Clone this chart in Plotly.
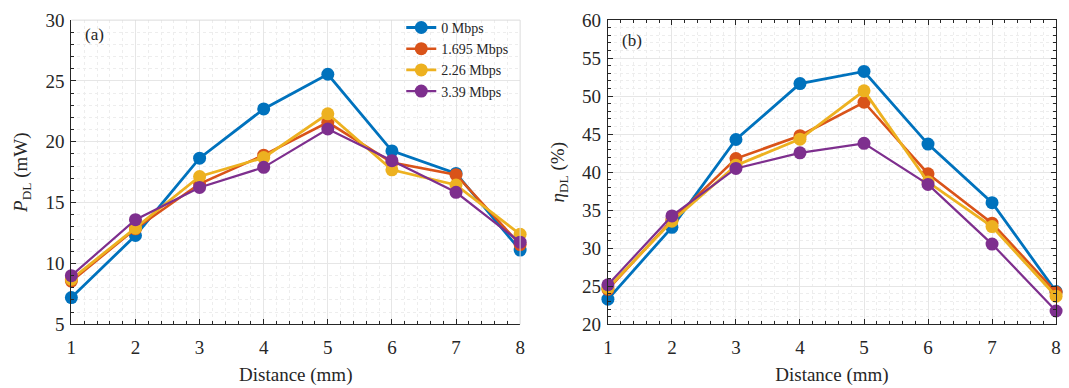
import plotly.graph_objects as go

# Distance between transmitter and receiver (mm)
distance = [1, 2, 3, 4, 5, 6, 7, 8]

# Data-rate settings shown in the legend
rate_labels = ["0 Mbps", "1.695 Mbps", "2.26 Mbps", "3.39 Mbps"]

# (a) Delivered power P_DL (mW)
p_0 = [7.2, 12.3, 18.65, 22.7, 25.55, 19.25, 17.4, 11.1]
p_1695 = [8.55, 12.85, 16.55, 18.9, 21.6, 18.3, 17.3, 11.55]
p_226 = [8.7, 12.9, 17.15, 18.7, 22.3, 17.7, 16.45, 12.4]
p_339 = [9.0, 13.6, 16.25, 17.9, 21.05, 18.45, 15.85, 11.75]

# (b) Delivery efficiency eta_DL (%)
e_0 = [23.3, 32.75, 44.3, 51.65, 53.25, 43.7, 36.0, 24.3]
e_1695 = [24.6, 33.7, 41.8, 44.8, 49.2, 39.8, 33.3, 24.2]
e_226 = [24.75, 33.55, 40.9, 44.35, 50.7, 38.7, 32.85, 23.7]
e_339 = [25.2, 34.25, 40.5, 42.55, 43.8, 38.4, 30.55, 21.75]

colors = ["#0072BD", "#D95319", "#EDB120", "#7E2F8E"]
widths = [2.8, 2.6, 2.8, 2.2]

FONT = "Liberation Serif, Times New Roman, DejaVu Serif, serif"
INK = "#262626"
W, H = 1069, 388

fig = go.Figure()

for i, (label, ys) in enumerate(zip(rate_labels, [p_0, p_1695, p_226, p_339])):
    fig.add_trace(go.Scatter(
        x=distance, y=ys, name=label, mode="lines+markers",
        line=dict(color=colors[i], width=widths[i]),
        marker=dict(color=colors[i], size=13),
        cliponaxis=False, xaxis="x", yaxis="y", legendgroup=label,
    ))

for i, (label, ys) in enumerate(zip(rate_labels, [e_0, e_1695, e_226, e_339])):
    fig.add_trace(go.Scatter(
        x=distance, y=ys, name=label, mode="lines+markers",
        line=dict(color=colors[i], width=widths[i]),
        marker=dict(color=colors[i], size=13),
        cliponaxis=False, xaxis="x2", yaxis="y2", legendgroup=label,
        showlegend=False,
    ))


def axis_style(rng, dtick, minor_dtick, mirror, label_gap):
    return dict(
        range=rng, dtick=dtick, tick0=rng[0], autorange=False,
        showline=True, linecolor=INK, linewidth=1, mirror=mirror,
        ticks="inside", ticklen=5, tickcolor=INK, tickwidth=1,
        ticklabelstandoff=label_gap,
        showgrid=True, gridcolor="#e6e6e6", gridwidth=1,
        zeroline=False,
        tickfont=dict(family=FONT, size=19, color=INK),
        minor=dict(dtick=minor_dtick, ticks="inside", ticklen=3,
                   tickcolor=INK, showgrid=True, gridcolor="#ededed",
                   griddash="dot", gridwidth=1),
    )


ydom = [1 - 332.3 / H, 1 - 10.7 / H]
xdom1 = [67 / W, 520 / W]
xdom2 = [608.6 / W, 1061 / W]
title_font = dict(family=FONT, size=19, color=INK)

xa1 = axis_style([1, 8], 1, 0.2, False, 6)
xa1.update(domain=xdom1, anchor="y",
           title=dict(text="Distance (mm)", font=title_font, standoff=10))
ya1 = axis_style([5, 30], 5, 1, False, 2)
ya1.update(domain=ydom, anchor="x",
           title=dict(text="<i>P</i><sub>DL</sub> (mW)", font=title_font, standoff=12))

xa2 = axis_style([1, 8], 1, 0.2, "ticks", 6)
xa2.update(domain=xdom2, anchor="y2",
           title=dict(text="Distance (mm)", font=title_font, standoff=10))
ya2 = axis_style([20, 60], 5, 1, "ticks", 2)
ya2.update(domain=ydom, anchor="x2",
           title=dict(text="<i>η</i><sub>DL</sub> (%)", font=title_font, standoff=12))

fig.update_layout(
    width=W, height=H,
    margin=dict(l=0, r=0, t=0, b=0),
    paper_bgcolor="white", plot_bgcolor="white",
    xaxis=xa1, yaxis=ya1, xaxis2=xa2, yaxis2=ya2,
    showlegend=True,
    legend=dict(
        x=400 / W, y=1 - 2 / H, xanchor="left", yanchor="top",
        bgcolor="rgba(0,0,0,0)", borderwidth=0,
        font=dict(family=FONT, size=14, color=INK),
        tracegroupgap=0, itemwidth=30,
    ),
    shapes=[
        # light frame on the top and right of panel (a)
        dict(type="line", xref="x domain", yref="y domain", x0=0, x1=1, y0=1, y1=1,
             line=dict(color="#dcdcdc", width=1)),
        dict(type="line", xref="x domain", yref="y domain", x0=1, x1=1, y0=0, y1=1,
             line=dict(color="#dcdcdc", width=1)),
    ],
    annotations=[
        dict(text="(a)", xref="paper", yref="paper", x=90 / W, y=1 - 26 / H,
             xanchor="center", yanchor="middle", showarrow=False,
             font=dict(family=FONT, size=17, color=INK)),
        dict(text="(b)", xref="paper", yref="paper", x=633 / W, y=1 - 32 / H,
             xanchor="center", yanchor="middle", showarrow=False,
             font=dict(family=FONT, size=17, color=INK)),
    ],
)

fig.write_html("out.html")
